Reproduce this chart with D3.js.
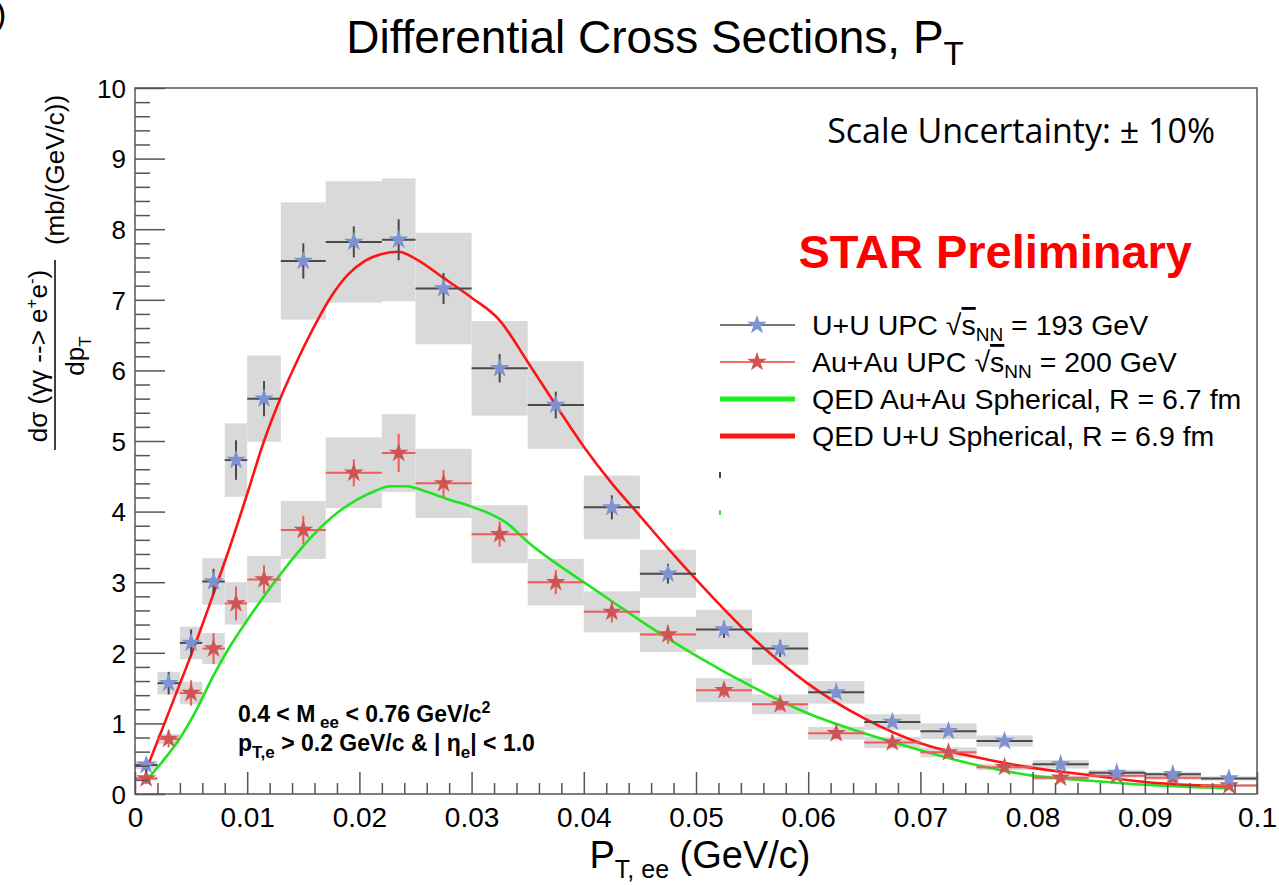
<!DOCTYPE html>
<html lang="en">
<head>
<meta charset="UTF-8">
<title>Differential Cross Sections, PT</title>
<script src="https://d3js.org/d3.v7.min.js"></script>
<style>
  body { margin: 0; padding: 0; background: #fff; }
  svg { font-family: "Liberation Sans", Arial, sans-serif; }
</style>
</head>
<body>
<div id="chart"></div>
<script>
// bin edges in pT (GeV/c)
var binEdges = [0, 0.002, 0.004, 0.006, 0.008, 0.010, 0.013, 0.017, 0.022, 0.025, 0.030, 0.035,
  0.040, 0.045, 0.050, 0.055, 0.060, 0.065, 0.070, 0.075, 0.080, 0.085, 0.090, 0.095, 0.100];

// U+U UPC data
var uuValues = [0.41, 1.57, 2.14, 3.01, 4.73, 5.60, 7.55, 7.82, 7.85, 7.16, 6.03, 5.51,
  4.06, 3.12, 2.33, 2.06, 1.44, 1.02, 0.89, 0.75, 0.42, 0.30, 0.28, 0.22];
var uuStat = [0.10, 0.16, 0.19, 0.18, 0.28, 0.25, 0.25, 0.22, 0.29, 0.22, 0.20, 0.19,
  0.17, 0.14, 0.12, 0.12, 0.07, 0.06, 0.05, 0.05, 0.05, 0.04, 0.04, 0.04];
var uuSys = [0.06, 0.16, 0.23, 0.33, 0.52, 0.61, 0.83, 0.86, 0.87, 0.79, 0.67, 0.62,
  0.45, 0.34, 0.28, 0.23, 0.16, 0.11, 0.11, 0.08, 0.06, 0.04, 0.03, 0.03];

// Au+Au UPC data
var auValues = [0.22, 0.78, 1.43, 2.06, 2.70, 3.04, 3.74, 4.55, 4.83, 4.40, 3.68, 3.00,
  2.58, 2.26, 1.47, 1.27, 0.86, 0.73, 0.59, 0.38, 0.23, 0.26, 0.23, 0.12];
var auStat = [0.08, 0.12, 0.18, 0.22, 0.24, 0.20, 0.20, 0.19, 0.27, 0.19, 0.18, 0.17,
  0.15, 0.13, 0.10, 0.09, 0.08, 0.07, 0.07, 0.06, 0.05, 0.05, 0.05, 0.04];
var auSys = [0.03, 0.07, 0.16, 0.22, 0.30, 0.33, 0.41, 0.50, 0.55, 0.49, 0.41, 0.33,
  0.29, 0.25, 0.17, 0.14, 0.09, 0.08, 0.07, 0.04, 0.03, 0.03, 0.03, 0.02];

// QED U+U, R = 6.9 fm
var qedUUpt = [0.001, 0.0025, 0.004, 0.0055, 0.007, 0.0085, 0.010, 0.0115, 0.013, 0.0145, 0.016,
  0.0175, 0.019, 0.0205, 0.022, 0.0235, 0.025, 0.0275, 0.030, 0.0325, 0.035, 0.0375, 0.040,
  0.0425, 0.045, 0.0475, 0.050, 0.055, 0.060, 0.065, 0.070, 0.075, 0.080, 0.085, 0.090, 0.0975];
var qedUUval = [0.34, 0.95, 1.56, 2.18, 2.84, 3.52, 4.25, 5.00, 5.62, 6.15, 6.63,
  7.05, 7.36, 7.55, 7.65, 7.68, 7.58, 7.31, 7.03, 6.71, 6.12, 5.51, 4.92,
  4.40, 3.94, 3.48, 3.04, 2.22, 1.56, 1.07, 0.72, 0.52, 0.37, 0.27, 0.17, 0.11];

// QED Au+Au, R = 6.7 fm
var qedAuPt = [0.001, 0.0025, 0.004, 0.0055, 0.007, 0.0085, 0.010, 0.0115, 0.013, 0.0145, 0.0162,
  0.018, 0.0198, 0.0215, 0.0227, 0.0242, 0.026, 0.0278, 0.030, 0.0332, 0.035, 0.0375, 0.040,
  0.0425, 0.045, 0.050, 0.055, 0.060, 0.065, 0.070, 0.075, 0.080, 0.085, 0.090, 0.0975];
var qedAuVal = [0.19, 0.47, 0.79, 1.20, 1.68, 2.10, 2.46, 2.80, 3.12, 3.42, 3.72,
  3.98, 4.17, 4.30, 4.36, 4.36, 4.28, 4.18, 4.07, 3.83, 3.57, 3.27, 3.00,
  2.73, 2.46, 1.96, 1.52, 1.14, 0.86, 0.62, 0.41, 0.26, 0.19, 0.13, 0.08];

var xTicks = [0, 0.01, 0.02, 0.03, 0.04, 0.05, 0.06, 0.07, 0.08, 0.09, 0.1];
var xTickLabels = ["0", "0.01", "0.02", "0.03", "0.04", "0.05", "0.06", "0.07", "0.08", "0.09", "0.1"];
var yTicks = [0, 1, 2, 3, 4, 5, 6, 7, 8, 9, 10];

(function () {
var W = 1279, H = 885;
var pLeft = 135, pRight = 1257, pTop = 88, pBottom = 794;

var svg = d3.select("#chart").append("svg")
  .attr("width", W).attr("height", H);

var x = d3.scaleLinear().domain([0, 0.1]).range([pLeft, pRight]);
var y = d3.scaleLinear().domain([0, 10]).range([pBottom, pTop]);

svg.append("clipPath").attr("id", "plotclip")
  .append("rect").attr("x", pLeft).attr("y", pTop)
  .attr("width", pRight - pLeft).attr("height", pBottom - pTop);

function makeBins(vals, stat, sys) {
  return vals.map(function (v, i) {
    return { x0: binEdges[i], x1: binEdges[i + 1], xc: (binEdges[i] + binEdges[i + 1]) / 2,
      v: v, stat: stat[i], sys: sys[i] };
  });
}
var uu = makeBins(uuValues, uuStat, uuSys);
var au = makeBins(auValues, auStat, auSys);

var plot = svg.append("g").attr("clip-path", "url(#plotclip)");

// systematic boxes
[uu, au].forEach(function (set) {
  plot.append("g").selectAll("rect")
    .data(set).enter().append("rect")
    .attr("x", function (d) { return x(d.x0); })
    .attr("width", function (d) { return x(d.x1) - x(d.x0); })
    .attr("y", function (d) { return y(d.v + d.sys); })
    .attr("height", function (d) { return y(d.v - d.sys) - y(d.v + d.sys); })
    .attr("fill", "#d9d9d9");
});

// theory curves
var line = d3.line()
  .x(function (d) { return x(d[0]); })
  .y(function (d) { return y(d[1]); })
  .curve(d3.curveMonotoneX);

plot.append("path")
  .datum(d3.zip(qedAuPt, qedAuVal))
  .attr("d", line).attr("fill", "none")
  .attr("stroke", "#1ee51e").attr("stroke-width", 2.6);

plot.append("path")
  .datum(d3.zip(qedUUpt, qedUUval))
  .attr("d", line).attr("fill", "none")
  .attr("stroke", "#ff1414").attr("stroke-width", 2.6);

// data points with error bars
var star = d3.symbol().type(d3.symbolStar).size(120);

function drawPoints(set, barColor, markColor) {
  var g = plot.append("g");
  var pt = g.selectAll("g").data(set).enter().append("g");
  pt.append("line")
    .attr("x1", function (d) { return x(d.x0); })
    .attr("x2", function (d) { return x(d.x1); })
    .attr("y1", function (d) { return y(d.v); })
    .attr("y2", function (d) { return y(d.v); })
    .attr("stroke", barColor).attr("stroke-width", 2);
  pt.append("line")
    .attr("x1", function (d) { return x(d.xc); })
    .attr("x2", function (d) { return x(d.xc); })
    .attr("y1", function (d) { return y(d.v + d.stat); })
    .attr("y2", function (d) { return y(d.v - d.stat); })
    .attr("stroke", barColor).attr("stroke-width", 2);
  pt.append("path")
    .attr("d", star)
    .attr("transform", function (d) { return "translate(" + x(d.xc) + "," + y(d.v) + ")"; })
    .attr("fill", markColor);
}
drawPoints(au, "#f05a5a", "#cf5555");
drawPoints(uu, "#4a4a4a", "#7d92d2");

// axes
var xAxis = d3.axisBottom(x).tickValues(xTicks).tickSize(-22).tickPadding(12)
  .tickFormat(function (d, i) { return xTickLabels[i]; });
var xMinor = d3.axisBottom(x)
  .tickValues(d3.range(0, 51).map(function (i) { return i * 0.002; }).filter(function (d, i) { return i % 5 !== 0; }))
  .tickSize(-11).tickFormat("");
var yAxis = d3.axisLeft(y).tickValues(yTicks).tickSize(-30).tickPadding(9);
var yMinor = d3.axisLeft(y)
  .tickValues(d3.range(0, 51).map(function (i) { return i * 0.2; }).filter(function (d, i) { return i % 5 !== 0; }))
  .tickSize(-15).tickFormat("");

function styleAxis(g, size) {
  g.select(".domain").remove();
  g.selectAll("line").attr("stroke", "#555").attr("stroke-width", 1.5);
  g.selectAll("text").attr("font-family", "Liberation Sans, Arial, sans-serif")
    .attr("font-size", size).attr("fill", "#000");
}
svg.append("g").attr("transform", "translate(0," + pBottom + ")").call(xMinor).call(styleAxis, 28);
svg.append("g").attr("transform", "translate(0," + pBottom + ")").call(xAxis).call(styleAxis, 28)
  .selectAll("text").attr("dy", "0.75em");
svg.append("g").attr("transform", "translate(" + pLeft + ",0)").call(yMinor).call(styleAxis, 26);
svg.append("g").attr("transform", "translate(" + pLeft + ",0)").call(yAxis).call(styleAxis, 26)
  .selectAll("text").attr("dy", "0.36em");

// frame
svg.append("rect").attr("x", pLeft).attr("y", pTop)
  .attr("width", pRight - pLeft).attr("height", pBottom - pTop)
  .attr("fill", "none").attr("stroke", "#555").attr("stroke-width", 1.5);

// title
var title = svg.append("text").attr("x", 655).attr("y", 53).attr("text-anchor", "middle")
  .attr("font-size", 46);
title.append("tspan").text("Differential Cross Sections, P");
title.append("tspan").attr("font-size", 33).attr("dy", 12).text("T");

// corner fragment
svg.append("text").attr("x", -5).attr("y", 25).attr("font-size", 34).text(")");

// x-axis title
var xt = svg.append("text").attr("x", 700).attr("y", 868).attr("text-anchor", "middle")
  .attr("font-size", 38);
xt.append("tspan").text("P");
xt.append("tspan").attr("font-size", 25).attr("dy", 10).text("T, ee");
xt.append("tspan").attr("dy", -10).text(" (GeV/c)");

// y-axis title (fraction)
var yt = svg.append("g").attr("font-size", 26);
var num = yt.append("text").attr("transform", "translate(47,356) rotate(-90)").attr("text-anchor", "middle");
num.append("tspan").text("d\u03c3 (\u03b3\u03b3 --> e");
num.append("tspan").attr("font-size", 17).attr("dy", -10).text("+");
num.append("tspan").attr("dy", 10).text("e");
num.append("tspan").attr("font-size", 17).attr("dy", -10).text("-");
num.append("tspan").attr("dy", 10).text(")");
yt.append("line").attr("x1", 55).attr("x2", 55).attr("y1", 260).attr("y2", 450)
  .attr("stroke", "#000").attr("stroke-width", 1.5);
var den = yt.append("text").attr("transform", "translate(84,356) rotate(-90)").attr("text-anchor", "middle");
den.append("tspan").text("dp");
den.append("tspan").attr("font-size", 17).attr("dy", 7).text("T");
yt.append("text").attr("transform", "translate(64,170) rotate(-90)").attr("text-anchor", "middle")
  .text("(mb/(GeV/c))");

// annotations
svg.append("text").attr("x", 1215).attr("y", 143).attr("text-anchor", "end")
  .attr("font-family", "Open Sans, Noto Sans, sans-serif").attr("font-size", 34)
  .text("Scale Uncertainty: \u00b1 10%");
svg.append("text").attr("x", 1192).attr("y", 268).attr("text-anchor", "end")
  .attr("font-size", 47).attr("font-weight", "bold").attr("fill", "#ff0000")
  .text("STAR Preliminary");

var cut = svg.append("g").attr("font-size", 23).attr("font-weight", "bold");
var c1 = cut.append("text").attr("x", 238).attr("y", 722);
c1.append("tspan").text("0.4 < M");
c1.append("tspan").attr("font-size", 17).attr("dy", 6).text(" ee");
c1.append("tspan").attr("dy", -6).text(" < 0.76 GeV/c");
c1.append("tspan").attr("font-size", 16).attr("dy", -9).text("2");
var c2 = cut.append("text").attr("x", 238).attr("y", 751);
c2.append("tspan").text("p");
c2.append("tspan").attr("font-size", 17).attr("dy", 7).text("T,e");
c2.append("tspan").attr("dy", -7).text(" > 0.2 GeV/c & | \u03b7");
c2.append("tspan").attr("font-size", 17).attr("dy", 7).text("e");
c2.append("tspan").attr("dy", -7).text("| < 1.0");

// legend
var legendRows = [
  { y: 325, kind: "uu" },
  { y: 362, kind: "au" },
  { y: 399, kind: "qedAu" },
  { y: 436, kind: "qedUU" }
];
var lg = svg.append("g");
legendRows.forEach(function (r) {
  var lx0 = 720, lx1 = 795, lm = 757;
  if (r.kind === "uu" || r.kind === "au") {
    lg.append("line").attr("x1", lx0).attr("x2", lx1).attr("y1", r.y).attr("y2", r.y)
      .attr("stroke", r.kind === "uu" ? "#777" : "#f07070").attr("stroke-width", 2);
    lg.append("path").attr("d", star).attr("transform", "translate(" + lm + "," + r.y + ")")
      .attr("fill", r.kind === "uu" ? "#7d92d2" : "#cf5555");
  } else {
    lg.append("line").attr("x1", lx0).attr("x2", lx1).attr("y1", r.y).attr("y2", r.y)
      .attr("stroke", r.kind === "qedAu" ? "#1ef01e" : "#ff1414").attr("stroke-width", 5);
  }
  var t = lg.append("text").attr("x", 812).attr("y", r.y + 10).attr("font-size", 28.5);
  if (r.kind === "uu" || r.kind === "au") {
    t.append("tspan").text(r.kind === "uu" ? "U+U UPC " : "Au+Au UPC ");
    t.append("tspan").text("\u221a");
    t.append("tspan").attr("text-decoration", "overline").text("s");
    t.append("tspan").attr("font-size", 19).attr("dy", 6).text("NN");
    t.append("tspan").attr("dy", -6).text(r.kind === "uu" ? " = 193 GeV" : " = 200 GeV");
  } else {
    t.text(r.kind === "qedAu" ? "QED Au+Au Spherical, R = 6.7 fm" : "QED U+U Spherical, R = 6.9 fm");
  }
});
// stray legend marks
lg.append("line").attr("x1", 720).attr("x2", 720).attr("y1", 472).attr("y2", 478)
  .attr("stroke", "#000").attr("stroke-width", 1.5);
lg.append("line").attr("x1", 720).attr("x2", 720).attr("y1", 510).attr("y2", 515)
  .attr("stroke", "#1ec01e").attr("stroke-width", 1.5);
})();
</script>
</body>
</html>
